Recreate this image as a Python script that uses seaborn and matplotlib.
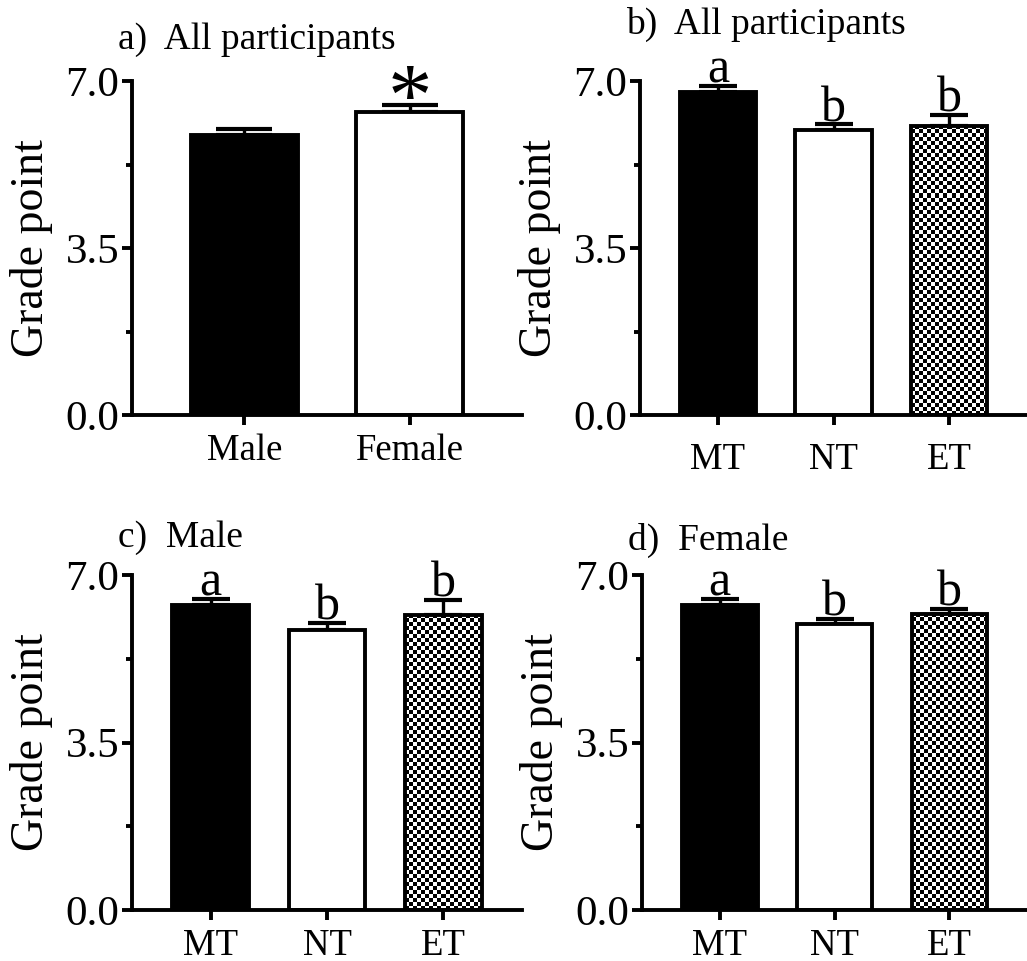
import numpy as np
import pandas as pd
import matplotlib
matplotlib.use("Agg")
import matplotlib.pyplot as plt
from matplotlib.ticker import FixedLocator
import seaborn as sns

sns.set_theme(style="white")
plt.rcParams["font.family"] = ["Liberation Serif", "DejaVu Serif"]
for key in ("text.color", "axes.labelcolor", "xtick.color", "ytick.color", "axes.edgecolor"):
    plt.rcParams[key] = "black"

# ---- data -------------------------------------------------------------
sex_labels = ["Male", "Female"]
sex_means = [5.86, 6.36]
sex_err = [0.13, 0.14]

chrono_labels = ["MT", "NT", "ET"]
all_means = [6.76, 5.97, 6.06]
all_err = [0.14, 0.12, 0.23]
male_means = [6.37, 5.85, 6.17]
male_err = [0.13, 0.14, 0.31]
female_means = [6.37, 5.98, 6.19]
female_err = [0.13, 0.11, 0.11]

sex_marks = ["", "*"]
group_marks = ["a", "b", "b"]

titles = ["a)  All participants", "b)  All participants", "c)  Male", "d)  Female"]

# ---- figure -----------------------------------------------------------
W, H = 1027, 961
fig = plt.figure(figsize=(W / 100, H / 100), dpi=100)


def px_axes(left, right, top, bottom):
    return fig.add_axes([left / W, 1 - bottom / H, (right - left) / W, (bottom - top) / H])


axes = [
    px_axes(132, 522, 81, 415),
    px_axes(640, 1027, 81, 415),
    px_axes(132, 522, 575, 910),
    px_axes(642, 1027, 575, 910),
]

LW = 2.8


def add_checker(ax, patch, cell_px=4.0):
    """Fill a bar with a black/white checkerboard clipped to its outline."""
    x0, y0 = patch.get_x(), patch.get_y()
    x1, y1 = x0 + patch.get_width(), y0 + patch.get_height()
    (px0, py0), (px1, py1) = ax.transData.transform([(x0, y0), (x1, y1)])
    nx = max(1, int(round(abs(px1 - px0) / cell_px)))
    ny = max(1, int(round(abs(py1 - py0) / cell_px)))
    board = (np.add.outer(np.arange(ny), np.arange(nx)) % 2).astype(float)
    im = ax.imshow(board, extent=(x0, x1, y0, y1), cmap="gray", vmin=0, vmax=1,
                   interpolation="nearest", aspect="auto", origin="lower",
                   zorder=patch.get_zorder() - 0.05)
    im.set_clip_path(patch)
    patch.set_facecolor("none")


def draw_panel(ax, labels, means, errs, colors, marks, title, title_dy,
               bar_w, capsize, checker_idx=None, xpad=6, mark_size=36, mark_dy=0.07):
    df = pd.DataFrame({"group": labels, "value": means})
    sns.barplot(data=df, x="group", y="value", hue="group", palette=colors,
                order=labels, hue_order=labels, legend=False, width=bar_w,
                edgecolor="black", linewidth=LW, saturation=1, errorbar=None, ax=ax)
    n = len(labels)
    half = 0.5 + (1 - bar_w) / 2 + 0.005
    ax.set_xlim(-half, n - 1 + half)
    ax.set_ylim(0, 7.0)

    # upper half of each error bar, tucked behind the bar
    ax.errorbar(range(n), means, yerr=[np.zeros(n), errs], fmt="none",
                ecolor="black", elinewidth=2.4, capsize=capsize, capthick=3.0,
                zorder=0.5)

    if checker_idx is not None:
        add_checker(ax, ax.patches[checker_idx])

    for i, (m, e, t) in enumerate(zip(means, errs, marks)):
        if not t:
            continue
        if t == "*":
            ax.text(i, m + e - 0.40, "*", ha="center", va="baseline",
                    fontsize=64, clip_on=False)
        else:
            ax.text(i, m + e + mark_dy, t, ha="center", va="baseline",
                    fontsize=mark_size, clip_on=False)

    ax.set_xlabel("")
    ax.set_ylabel("Grade point", fontsize=33, labelpad=9)
    ax.set_yticks([0, 3.5, 7.0])
    ax.set_yticklabels(["0.0", "3.5", "7.0"])
    ax.yaxis.set_minor_locator(FixedLocator([1.75, 5.25]))
    ax.tick_params(axis="y", which="major", direction="out", length=7, width=LW,
                   labelsize=31, pad=2, left=True)
    ax.tick_params(axis="y", which="minor", direction="out", length=4, width=LW,
                   left=True)
    ax.tick_params(axis="x", which="major", direction="out", length=7, width=LW,
                   labelsize=26.5, pad=xpad, bottom=True)
    for side in ("top", "right"):
        ax.spines[side].set_visible(False)
    for side in ("left", "bottom"):
        ax.spines[side].set_linewidth(LW)
        ax.spines[side].set_capstyle("projecting")
    ax.text(-0.037, 1 + title_dy, title, transform=ax.transAxes, ha="left",
            va="baseline", fontsize=27)
    ax.set_facecolor("white")


black_white_checker = ["black", "white", "white"]

draw_panel(axes[0], sex_labels, sex_means, sex_err, ["black", "white"], sex_marks,
           titles[0], 0.095, 0.65, 20)
draw_panel(axes[1], chrono_labels, all_means, all_err, black_white_checker, group_marks,
           titles[1], 0.14, 0.66, 13.5, checker_idx=2, xpad=13)
draw_panel(axes[2], chrono_labels, male_means, male_err, black_white_checker, group_marks,
           titles[2], 0.085, 0.66, 13.5, checker_idx=2)
draw_panel(axes[3], chrono_labels, female_means, female_err, black_white_checker, group_marks,
           titles[3], 0.075, 0.66, 13.5, checker_idx=2)

fig.savefig("out.png", dpi=100, facecolor="white")
